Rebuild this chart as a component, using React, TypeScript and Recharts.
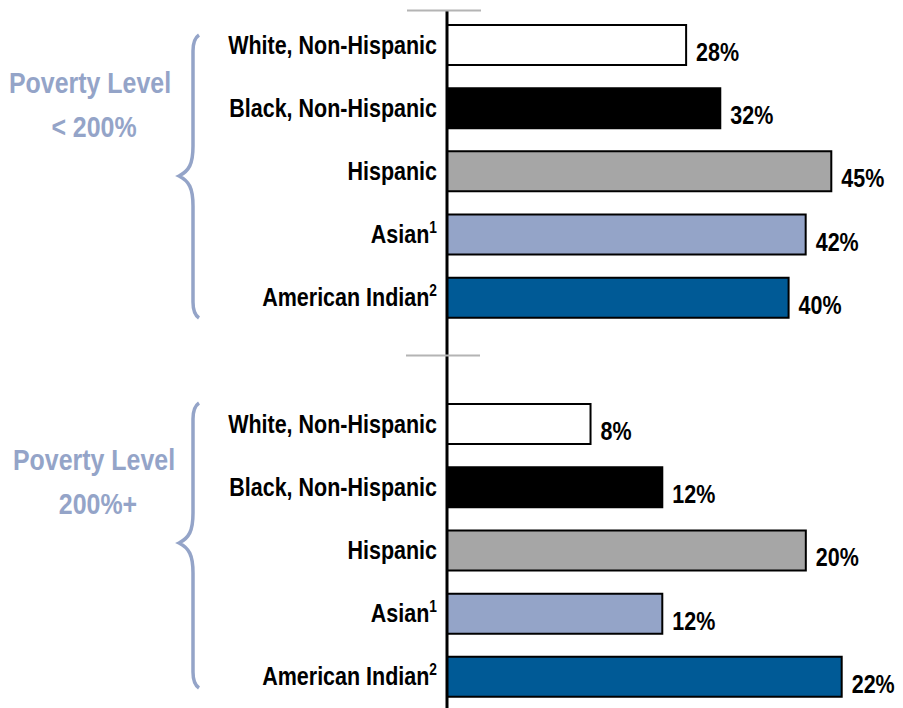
import { BarChart, Bar, XAxis, YAxis, Cell, LabelList } from "recharts";

const groups = ["Poverty Level < 200%", "Poverty Level 200%+"];
const groupLines = [
  ["Poverty Level", "< 200%"],
  ["Poverty Level", "200%+"],
];
const categories = [
  "White, Non-Hispanic",
  "Black, Non-Hispanic",
  "Hispanic",
  "Asian",
  "American Indian",
];
const footnotes = ["", "", "", "1", "2"];
const below200 = [28, 32, 45, 42, 40];
const above200 = [8, 12, 20, 12, 22];

const COLORS = ["#ffffff", "#000000", "#a6a6a6", "#94a4c8", "#005a96"];
const BLUE = "#94a4c8";
const FONT = "'Liberation Sans', Arial, sans-serif";
const SQUEEZE = 0.86;

type Row = { key: string; label: string; sup: string; color: string; low?: number; high?: number };

const rows: Row[] = [
  ...categories.map((c, i) => ({ key: "a" + i, label: c, sup: footnotes[i], color: COLORS[i], low: below200[i] })),
  { key: "gap", label: "", sup: "", color: "none" },
  ...categories.map((c, i) => ({ key: "b" + i, label: c, sup: footnotes[i], color: COLORS[i], high: above200[i] })),
];

const CategoryTick = (props: any) => {
  const { x, y, payload } = props;
  const row = rows.find((r) => r.key === payload.value);
  if (!row || !row.label) return null;
  return (
    <text
      transform={`translate(${x},${y + 9}) scale(${SQUEEZE},1)`}
      textAnchor="end"
      fontFamily={FONT}
      fontWeight="bold"
      fontSize={25}
      fill="#000"
    >
      {row.label}
      {row.sup && (
        <tspan fontSize={16} dy={-10}>
          {row.sup}
        </tspan>
      )}
    </text>
  );
};

const ValueLabel = (props: any) => {
  const { x, y, width, height, value } = props;
  if (value == null) return null;
  return (
    <text
      transform={`translate(${x + width + 10},${y + height / 2 + 16}) scale(${SQUEEZE},1)`}
      fontFamily={FONT}
      fontWeight="bold"
      fontSize={25}
      fill="#000"
    >
      {value}%
    </text>
  );
};

const brace = (top: number, mid: number, bottom: number) =>
  `M 199 ${top} Q 193 ${top + 4} 193 ${top + 16} L 193 ${mid - 30} C 193 ${mid - 12} 189 ${mid - 5} 179 ${mid} ` +
  `C 189 ${mid + 5} 193 ${mid + 12} 193 ${mid + 30} L 193 ${bottom - 16} Q 193 ${bottom - 4} 199 ${bottom}`;

export default function App() {
  return (
    <div style={{ position: "absolute", left: 0, top: 0, width: 903, height: 708, background: "#fff" }}>
      <BarChart
        layout="vertical"
        width={903}
        height={708}
        data={rows}
        margin={{ top: 10, right: 29, bottom: 0, left: 0 }}
        barGap={-40}
      >
        <XAxis xAxisId="low" type="number" domain={[0, 50]} hide />
        <XAxis xAxisId="high" type="number" domain={[0, 23.8]} hide />
        <YAxis
          dataKey="key"
          type="category"
          width={447}
          padding={{ top: 3, bottom: 0 }}
          axisLine={{ stroke: "#000", strokeWidth: 3 }}
          tickLine={false}
          tickSize={0}
          tickMargin={10}
          interval={0}
          tick={<CategoryTick />}
        />
        <Bar xAxisId="low" dataKey="low" barSize={40} stroke="#000" strokeWidth={2} isAnimationActive={false}>
          {rows.map((r) => (
            <Cell key={r.key} fill={r.color} />
          ))}
          <LabelList dataKey="low" content={<ValueLabel />} />
        </Bar>
        <Bar xAxisId="high" dataKey="high" barSize={40} stroke="#000" strokeWidth={2} isAnimationActive={false}>
          {rows.map((r) => (
            <Cell key={r.key} fill={r.color} />
          ))}
          <LabelList dataKey="high" content={<ValueLabel />} />
        </Bar>
      </BarChart>
      <svg
        width={903}
        height={708}
        style={{ position: "absolute", left: 0, top: 0, pointerEvents: "none" }}
        aria-label={groups.join(" / ")}
      >
        <line x1={407} x2={481} y1={10.5} y2={10.5} stroke="#b4b4b4" strokeWidth={2} />
        <line x1={406} x2={480} y1={355.5} y2={355.5} stroke="#b4b4b4" strokeWidth={2} />
        <path d={brace(35, 176, 318)} fill="none" stroke={BLUE} strokeWidth={3.5} />
        <path d={brace(403, 543, 688)} fill="none" stroke={BLUE} strokeWidth={3.5} />
        {[
          { cx: 90, y: 93 },
          { cx: 94, y: 470 },
        ].map((g, gi) => (
          <g key={gi}>
            <text
              transform={`translate(${g.cx},${g.y}) scale(${SQUEEZE},1)`}
              textAnchor="middle"
              fontFamily={FONT}
              fontWeight="bold"
              fontSize={29}
              fill={BLUE}
            >
              {groupLines[gi][0]}
            </text>
            <text
              transform={`translate(${g.cx + 4},${g.y + 44}) scale(${SQUEEZE},1)`}
              textAnchor="middle"
              fontFamily={FONT}
              fontWeight="bold"
              fontSize={29}
              fill={BLUE}
            >
              {groupLines[gi][1]}
            </text>
          </g>
        ))}
      </svg>
    </div>
  );
}
